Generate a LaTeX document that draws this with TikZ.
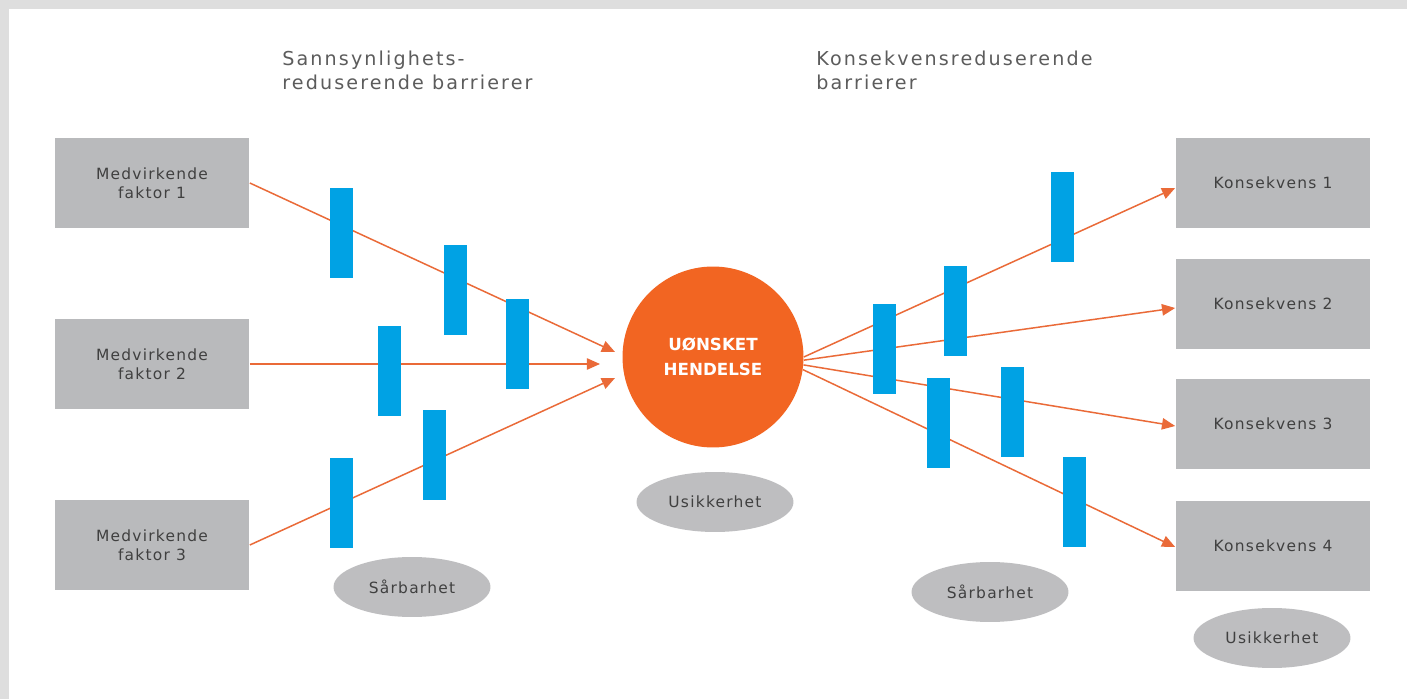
\documentclass[tikz,border=0pt]{standalone}
\usepackage{fontspec}
\setmainfont{DejaVu Sans}
\newfontfamily\diagfont{DejaVu Sans}[LetterSpace=8]
\newfontfamily\tittelfont{DejaVu Sans}[LetterSpace=11]
\usetikzlibrary{shapes,arrows.meta}

\definecolor{kantgraa}{RGB}{222,222,222}
\definecolor{boksgraa}{RGB}{185,186,188}
\definecolor{ellgraa}{RGB}{190,190,192}
\definecolor{tekstgraa}{RGB}{64,64,64}
\definecolor{tittelgraa}{RGB}{92,92,92}
\definecolor{barblaa}{RGB}{0,162,228}
\definecolor{oransje}{RGB}{242,101,34}
\definecolor{pilfarge}{RGB}{234,106,56}

\begin{document}
\begin{tikzpicture}[x=0.02cm,y=-0.02cm]
        \tikzstyle{boks}=[rectangle,fill=boksgraa,minimum width=3.9cm,minimum height=1.8cm,align=center,text=tekstgraa,font=\diagfont\fontsize{8.8}{10.8}\selectfont]
        \tikzstyle{barriere}=[rectangle,fill=barblaa,minimum width=0.46cm,minimum height=1.82cm,inner sep=0]
        \tikzstyle{sky}=[ellipse,fill=ellgraa,minimum width=3.14cm,minimum height=1.2cm,inner sep=0,text=tekstgraa,font=\diagfont\fontsize{8.8}{10.8}\selectfont]
        \tikzstyle{tittel}=[anchor=base west,inner sep=0,align=left,text=tittelgraa,font=\tittelfont\fontsize{10.9}{13.7}\selectfont]
        \tikzstyle{pil}=[draw=pilfarge,line width=0.85pt,-{Triangle[length=7.5pt,width=6.5pt]}]

        % bakgrunn
        \fill[kantgraa] (0,0) rectangle (1407,699);
        \fill[white] (9,9) rectangle (1407,699);
        \useasboundingbox (0,0) rectangle (1407,699);

        % overskrifter
        \node[tittel] (tittelV) at (282,90) {Sannsynlighets-\\reduserende barrierer};
        \node[tittel] (tittelH) at (816,90) {Konsekvensreduserende\\barrierer};

        % faktorer og konsekvenser
        \node[boks] (faktor1) at (152,183) {Medvirkende\\faktor 1};
        \node[boks] (faktor2) at (152,364) {Medvirkende\\faktor 2};
        \node[boks] (faktor3) at (152,545) {Medvirkende\\faktor 3};
        \node[boks] (kons1) at (1273,183) {Konsekvens 1};
        \node[boks] (kons2) at (1273,304) {Konsekvens 2};
        \node[boks] (kons3) at (1273,424) {Konsekvens 3};
        \node[boks] (kons4) at (1273,546) {Konsekvens 4};

        % hendelsen
        \node[circle,fill=oransje,minimum size=3.62cm,inner sep=0,align=center,text=white,
              font=\bfseries\fontsize{9.5}{14}\selectfont] (hendelse) at (713,357) {UØNSKET\\HENDELSE};

        \node[sky] (usikker1) at (715,502) {Usikkerhet};
        \node[sky] (usikker2) at (1272,638) {Usikkerhet};
        \node[sky] (sarbar1) at (412,587) {Sårbarhet};
        \node[sky] (sarbar2) at (990,592) {Sårbarhet};

        % piler inn
        \coordinate (inn1) at (615,352);
        \coordinate (inn2) at (600,364);
        \coordinate (inn3) at (615,378);
        \draw[pil] (faktor1.east) -- (inn1);
        \draw[pil] (faktor2.east) -- (inn2);
        \draw[pil] (faktor3.east) -- (inn3);

        % piler ut
        \draw[pil] (hendelse.0) -- ([yshift=-0.1cm]kons1.west);
        \draw[pil] (hendelse.-2) -- ([yshift=-0.08cm]kons2.west);
        \draw[pil] (hendelse.-5) -- ([yshift=-0.04cm]kons3.west);
        \draw[pil] (hendelse.-8) -- ([yshift=-0.02cm]kons4.west);

        % barrierer
        \node[barriere] (b1) at (341,233) {};
        \node[barriere] (b2) at (455,290) {};
        \node[barriere] (b3) at (517,344) {};
        \node[barriere] (b4) at (389,371) {};
        \node[barriere] (b5) at (434,455) {};
        \node[barriere] (b6) at (341,503) {};
        \node[barriere] (b7) at (1062,217) {};
        \node[barriere] (b8) at (955,311) {};
        \node[barriere] (b9) at (884,349) {};
        \node[barriere] (b10) at (938,423) {};
        \node[barriere] (b11) at (1012,412) {};
        \node[barriere] (b12) at (1074,502) {};
\end{tikzpicture}
\end{document}
